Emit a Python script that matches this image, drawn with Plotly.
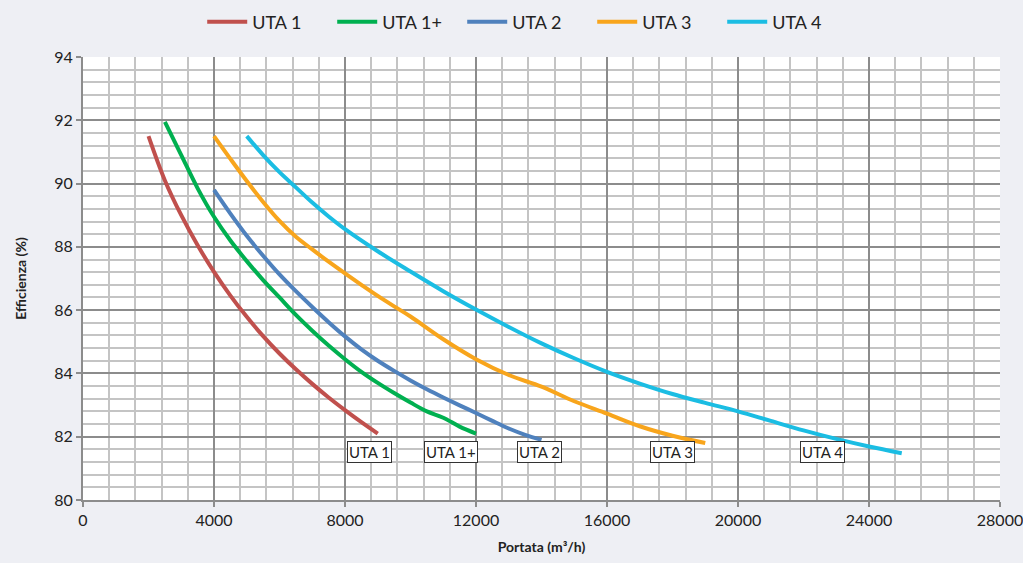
import plotly.graph_objects as go

# Curve data (Portata m3/h vs Efficienza %)
uta1_x = [2000, 2500, 3000, 3500, 4000, 4500, 5000, 5500, 6000, 6500, 7000, 7500, 8000, 8500, 9000]
uta1_y = [91.5, 90.1, 89.0, 88.05, 87.21, 86.46, 85.79, 85.18, 84.63, 84.13, 83.67, 83.24, 82.84, 82.46, 82.1]

uta1p_x = [2500, 3000, 3500, 4000, 4500, 5000, 5500, 6000, 6500, 7000, 7500, 8000, 8500, 9000,
           9500, 10000, 10500, 11000, 11500, 12000]
uta1p_y = [91.95, 90.9, 89.85, 88.95, 88.2, 87.55, 86.95, 86.4, 85.85, 85.35, 84.88, 84.45, 84.05, 83.7,
           83.38, 83.08, 82.8, 82.6, 82.32, 82.1]

uta2_x = [4000, 4500, 5000, 5500, 6000, 6500, 7000, 7500, 8000, 8500, 9000, 9500, 10000, 10500,
          11000, 11500, 12000, 12500, 13000, 13500, 14000]
uta2_y = [89.8, 89.05, 88.35, 87.72, 87.13, 86.6, 86.1, 85.62, 85.17, 84.76, 84.4, 84.08, 83.78, 83.5,
          83.24, 82.99, 82.75, 82.5, 82.26, 82.06, 81.9]

uta3_x = [4000, 4500, 5000, 5500, 6000, 6500, 7000, 7500, 8000, 8500, 9000, 9500, 10000, 11000,
          12000, 13000, 14000, 15000, 16000, 17000, 18000, 19000]
uta3_y = [91.5, 90.78, 90.08, 89.42, 88.82, 88.32, 87.92, 87.53, 87.16, 86.8, 86.45, 86.12, 85.8, 85.08,
          84.45, 83.95, 83.58, 83.12, 82.73, 82.33, 82.03, 81.8]

uta4_x = [5000, 5500, 6000, 6500, 7000, 7500, 8000, 9000, 10000, 11000, 12000, 13000, 14000, 15000,
          16000, 17000, 18000, 19000, 20000, 21000, 22000, 23000, 24000, 25000]
uta4_y = [91.5, 90.9, 90.36, 89.88, 89.4, 88.96, 88.56, 87.86, 87.22, 86.6, 86.02, 85.47, 84.95, 84.48,
          84.05, 83.68, 83.35, 83.07, 82.8, 82.5, 82.2, 81.93, 81.69, 81.48]

names = ["UTA 1", "UTA 1+", "UTA 2", "UTA 3", "UTA 4"]
colors = ["#c0504d", "#00b050", "#4f81bd", "#f8a51c", "#1bbde3"]
series = [(uta1_x, uta1_y), (uta1p_x, uta1p_y), (uta2_x, uta2_y), (uta3_x, uta3_y), (uta4_x, uta4_y)]

# box labels under each curve end
label_x = [8740, 11230, 13940, 17990, 22590]
label_y = [81.52, 81.52, 81.52, 81.52, 81.52]

bg = "#eeeff4"

fig = go.Figure()
for (xs, ys), name, col in zip(series, names, colors):
    fig.add_trace(go.Scatter(x=xs, y=ys, name=name, mode="lines",
                             line=dict(color=col, width=4, shape="spline", smoothing=1.0)))

for lx, ly, name in zip(label_x, label_y, names):
    fig.add_annotation(x=lx, y=ly, text=name, showarrow=False,
                       font=dict(size=15, color="#222"),
                       bgcolor="white", bordercolor="#333", borderwidth=1, borderpad=1)

font_family = "Lato, Liberation Sans, sans-serif"

fig.update_layout(
    width=1023, height=563,
    paper_bgcolor=bg, plot_bgcolor="white",
    margin=dict(l=83, r=23, t=57, b=63, autoexpand=False),
    font=dict(family=font_family, size=16, color="#222"),
    showlegend=True,
    legend=dict(orientation="h", x=0.13, xanchor="left", y=1.079, yanchor="middle",
                font=dict(size=18), bgcolor="rgba(0,0,0,0)",
                itemwidth=40, entrywidth=75, entrywidthmode="pixels"),
)

fig.update_xaxes(
    range=[0, 28000], dtick=4000, tick0=0,
    showgrid=True, gridcolor="#8c8c8c", gridwidth=2,
    minor=dict(dtick=800, showgrid=True, gridcolor="#c4c4c4", gridwidth=2),
    showline=True, linecolor="#8c8c8c", linewidth=2,
    ticks="outside", ticklen=5, tickcolor="#8c8c8c", tickwidth=2,
    zeroline=False, tickformat="d", ticklabeloverflow="allow",
    title=dict(text="<b>Portata (m³/h)</b>", font=dict(size=14), standoff=14),
)
fig.update_yaxes(
    range=[80, 94], dtick=2, tick0=80,
    showgrid=True, gridcolor="#8c8c8c", gridwidth=2,
    minor=dict(dtick=0.4, showgrid=True, gridcolor="#c4c4c4", gridwidth=2),
    showline=True, linecolor="#8c8c8c", linewidth=2,
    ticks="outside", ticklen=5, tickcolor="#8c8c8c", tickwidth=2,
    zeroline=False,
    title=dict(text="<b>Efficienza (%)</b>", font=dict(size=14), standoff=24),
)

# drop the default 8px body margin so the chart fills the window, hide the modebar
fig.write_html("out.html", config={"displayModeBar": False},
               post_script=f"document.body.style.margin='0';document.body.style.background='{bg}';")
